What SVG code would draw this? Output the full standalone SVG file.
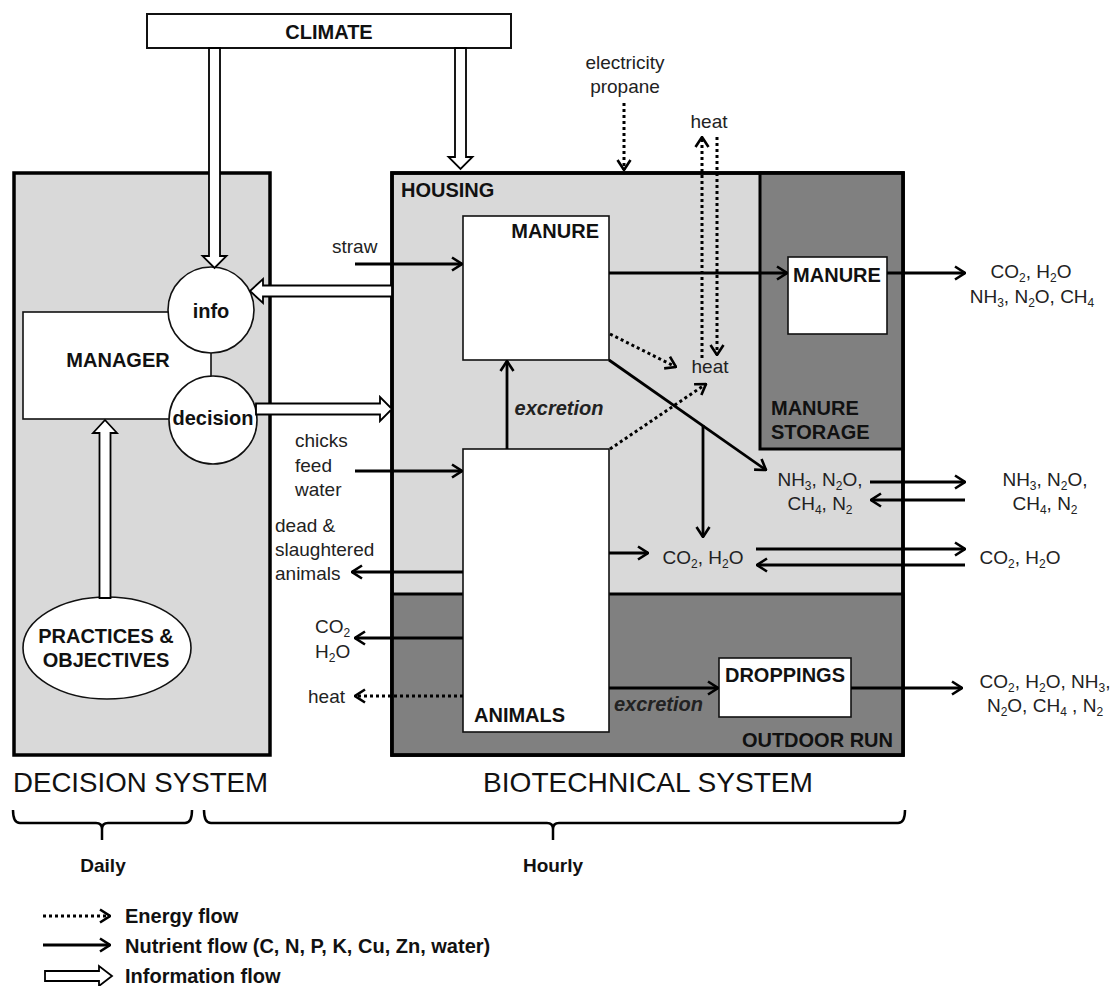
<svg xmlns="http://www.w3.org/2000/svg" width="1115" height="986" viewBox="0 0 1115 986">
<style>
text{font-family:"Liberation Sans",Arial,sans-serif}
.l{font-size:19px;fill:#222}
.b{font-size:20px;font-weight:bold;fill:#111}
.bi{font-size:20px;font-weight:bold;font-style:italic;fill:#222}
.big{font-size:28px;fill:#111}
.s{font-size:12px}
.m{text-anchor:middle}
.e{text-anchor:end}
.box{fill:#fff;stroke:#111;stroke-width:1.6}
.sol{fill:none;stroke:#000;stroke-width:2.8;marker-end:url(#ah)}
.dot{fill:none;stroke:#000;stroke-width:3;stroke-dasharray:3 3;marker-end:url(#ah)}
.hol{fill:#fff;stroke:#000;stroke-width:1.8;stroke-linejoin:miter}
</style>
<defs>
<marker id="ah" viewBox="0 0 12 16" refX="11" refY="8" markerWidth="12" markerHeight="16" markerUnits="userSpaceOnUse" orient="auto">
<path d="M1,1.5 L11,8 L1,14.5" fill="none" stroke="#000" stroke-width="2.6"/>
</marker>
</defs>
<rect width="1115" height="986" fill="#fff"/>

<g id="climate">
<rect x="147" y="14" width="364" height="34" fill="#fff" stroke="#111" stroke-width="2"/>
<text class="b m" x="329" y="39">CLIMATE</text>
</g>

<g id="decision-system">
<rect x="14" y="173" width="256" height="582" fill="#d9d9d9" stroke="#000" stroke-width="3.5"/>
</g>

<g id="biotechnical-system">
<rect x="392" y="173" width="511" height="582" fill="#d9d9d9" stroke="#000" stroke-width="3.5"/>
<text class="b" x="401" y="197">HOUSING</text>
</g>
<g id="manure-storage">
<rect x="760" y="173" width="143" height="276" fill="#808080" stroke="#000" stroke-width="3"/>
<text class="b" x="771" y="415">MANURE</text>
<text class="b" x="771" y="439">STORAGE</text>
</g>
<g id="outdoor-run">
<rect x="392" y="594" width="511" height="161" fill="#808080" stroke="#000" stroke-width="3"/>
<text class="b e" x="893" y="747">OUTDOOR RUN</text>
</g>
<rect x="392" y="173" width="511" height="582" fill="none" stroke="#000" stroke-width="3.5"/>

<g id="manure-housing">
<rect class="box" x="463" y="216" width="146" height="144"/>
<text class="b e" x="599" y="238">MANURE</text>
</g>
<g id="animals">
<rect class="box" x="463" y="449" width="146" height="283"/>
<text class="b" x="474" y="722">ANIMALS</text>
</g>
<g id="manure-stored">
<rect class="box" x="788" y="257" width="99" height="77"/>
<text class="b m" x="837" y="282">MANURE</text>
</g>
<g id="droppings">
<rect class="box" x="719" y="658" width="132" height="59"/>
<text class="b m" x="785" y="682">DROPPINGS</text>
</g>

<g id="manager">
<rect class="box" x="23" y="312" width="188" height="107"/>
<text class="b m" x="118" y="367">MANAGER</text>
</g>
<g id="info">
<circle class="box" cx="211" cy="310" r="43"/>
<text class="b m" x="211" y="318">info</text>
</g>
<g id="decision">
<circle class="box" cx="213" cy="420" r="44"/>
<text class="b m" x="213" y="425">decision</text>
</g>
<g id="practices">
<ellipse class="box" cx="107" cy="648" rx="84" ry="51"/>
<text class="b m" x="106" y="643">PRACTICES &amp;</text>
<text class="b m" x="106" y="667">OBJECTIVES</text>
</g>

<g id="connectors">
<polygon class="hol" points="209,48 220,48 220,256 226.5,256 214.5,268 202.5,256 209,256"/>
<polygon class="hol" points="455,48 466,48 466,157 472.5,157 460.5,169 448.5,157 455,157"/>
<polygon class="hol" points="99.5,598 110.5,598 110.5,433 117,433 105,420 93,433 99.5,433"/>
<polygon class="hol" points="392,285.5 392,296.5 263,296.5 263,303 250,291 263,279 263,285.5"/>
<polygon class="hol" points="256,403.5 380,403.5 380,397 392,409 380,421 380,414.5 256,414.5"/>

<line class="sol" x1="355" y1="264" x2="462" y2="264"/>
<line class="sol" x1="355" y1="471" x2="462" y2="471"/>
<line class="sol" x1="463" y1="572" x2="352" y2="572"/>
<line class="sol" x1="609" y1="273" x2="787" y2="273"/>
<line class="sol" x1="887" y1="273" x2="965" y2="273"/>
<line class="sol" x1="507" y1="449" x2="507" y2="361"/>
<line class="sol" x1="609" y1="360" x2="766" y2="470"/>
<line class="sol" x1="703" y1="425" x2="703" y2="537"/>
<line class="sol" x1="609" y1="553" x2="648" y2="553"/>
<line class="sol" x1="756" y1="549" x2="965" y2="549"/>
<line class="sol" x1="965" y1="565" x2="757" y2="565"/>
<line class="sol" x1="870" y1="482" x2="965" y2="482"/>
<line class="sol" x1="965" y1="500" x2="871" y2="500"/>
<line class="sol" x1="463" y1="638" x2="355" y2="638"/>
<line class="sol" x1="609" y1="688" x2="718" y2="688"/>
<line class="sol" x1="851" y1="688" x2="962" y2="688"/>

<line class="dot" x1="624" y1="103" x2="624" y2="170"/>
<line class="dot" x1="702" y1="358" x2="702" y2="137"/>
<line class="dot" x1="717" y1="137" x2="717" y2="355"/>
<line class="dot" x1="610" y1="334" x2="676" y2="367"/>
<line class="dot" x1="610" y1="449" x2="706" y2="384"/>
<line class="dot" x1="463" y1="696" x2="355" y2="696"/>
</g>

<g id="labels">
<text class="l m" x="625" y="69">electricity</text>
<text class="l m" x="625" y="93">propane</text>
<text class="l m" x="709" y="128">heat</text>
<text class="l m" x="710" y="373">heat</text>
<text class="l" x="332" y="253">straw</text>
<text class="l" x="295" y="447">chicks</text>
<text class="l" x="295" y="472">feed</text>
<text class="l" x="295" y="496">water</text>
<text class="l" x="275" y="532">dead &amp;</text>
<text class="l" x="275" y="556">slaughtered</text>
<text class="l" x="275" y="580">animals</text>
<text class="bi m" x="559" y="415">excretion</text>
<text class="bi" x="614" y="711">excretion</text>
<text class="l" x="315" y="633">CO<tspan class="s" dy="3.5">2</tspan></text>
<text class="l" x="315" y="658">H<tspan class="s" dy="3.5">2</tspan><tspan dy="-3.5">O</tspan></text>
<text class="l" x="308" y="703">heat</text>
<text class="l m" x="1031" y="278">CO<tspan class="s" dy="3.5">2</tspan><tspan dy="-3.5">, H</tspan><tspan class="s" dy="3.5">2</tspan><tspan dy="-3.5">O</tspan></text>
<text class="l m" x="1032" y="303">NH<tspan class="s" dy="3.5">3</tspan><tspan dy="-3.5">, N</tspan><tspan class="s" dy="3.5">2</tspan><tspan dy="-3.5">O, CH</tspan><tspan class="s" dy="3.5">4</tspan></text>
<text class="l m" x="820" y="486">NH<tspan class="s" dy="3.5">3</tspan><tspan dy="-3.5">, N</tspan><tspan class="s" dy="3.5">2</tspan><tspan dy="-3.5">O,</tspan></text>
<text class="l m" x="820" y="510">CH<tspan class="s" dy="3.5">4</tspan><tspan dy="-3.5">, N</tspan><tspan class="s" dy="3.5">2</tspan></text>
<text class="l m" x="1045" y="486">NH<tspan class="s" dy="3.5">3</tspan><tspan dy="-3.5">, N</tspan><tspan class="s" dy="3.5">2</tspan><tspan dy="-3.5">O,</tspan></text>
<text class="l m" x="1045" y="510">CH<tspan class="s" dy="3.5">4</tspan><tspan dy="-3.5">, N</tspan><tspan class="s" dy="3.5">2</tspan></text>
<text class="l m" x="703" y="564">CO<tspan class="s" dy="3.5">2</tspan><tspan dy="-3.5">, H</tspan><tspan class="s" dy="3.5">2</tspan><tspan dy="-3.5">O</tspan></text>
<text class="l m" x="1020" y="564">CO<tspan class="s" dy="3.5">2</tspan><tspan dy="-3.5">, H</tspan><tspan class="s" dy="3.5">2</tspan><tspan dy="-3.5">O</tspan></text>
<text class="l m" x="1045" y="688">CO<tspan class="s" dy="3.5">2</tspan><tspan dy="-3.5">, H</tspan><tspan class="s" dy="3.5">2</tspan><tspan dy="-3.5">O, NH</tspan><tspan class="s" dy="3.5">3</tspan><tspan dy="-3.5">,</tspan></text>
<text class="l m" x="1045" y="712">N<tspan class="s" dy="3.5">2</tspan><tspan dy="-3.5">O, CH</tspan><tspan class="s" dy="3.5">4</tspan><tspan dy="-3.5"> , N</tspan><tspan class="s" dy="3.5">2</tspan></text>
</g>

<g id="timescale">
<text class="big" x="13" y="792" textLength="255" lengthAdjust="spacingAndGlyphs">DECISION SYSTEM</text>
<text class="big" x="483" y="792" textLength="330" lengthAdjust="spacingAndGlyphs">BIOTECHNICAL SYSTEM</text>
<path d="M13,810 Q13,823 20,823 L96,823 Q102,823 102,829 L102,840 M102,829 Q102,823 108,823 L185,823 Q192,823 192,810" fill="none" stroke="#000" stroke-width="2.5"/>
<path d="M204,810 Q204,823 211,823 L547,823 Q553,823 553,829 L553,840 M553,829 Q553,823 559,823 L898,823 Q905,823 905,810" fill="none" stroke="#000" stroke-width="2.5"/>
<text class="b m" x="103" y="872" style="font-size:19px">Daily</text>
<text class="b m" x="553" y="872" style="font-size:19px">Hourly</text>
</g>

<g id="legend">
<line class="dot" x1="43" y1="916" x2="110" y2="916"/>
<line class="sol" x1="43" y1="945" x2="110" y2="945"/>
<polygon class="hol" points="45,971 99,971 99,966 112,976 99,986 99,981 45,981"/>
<text class="b" x="125" y="923">Energy flow</text>
<text class="b" x="125" y="953">Nutrient flow (C, N, P, K, Cu, Zn, water)</text>
<text class="b" x="125" y="983">Information flow</text>
</g>
</svg>
